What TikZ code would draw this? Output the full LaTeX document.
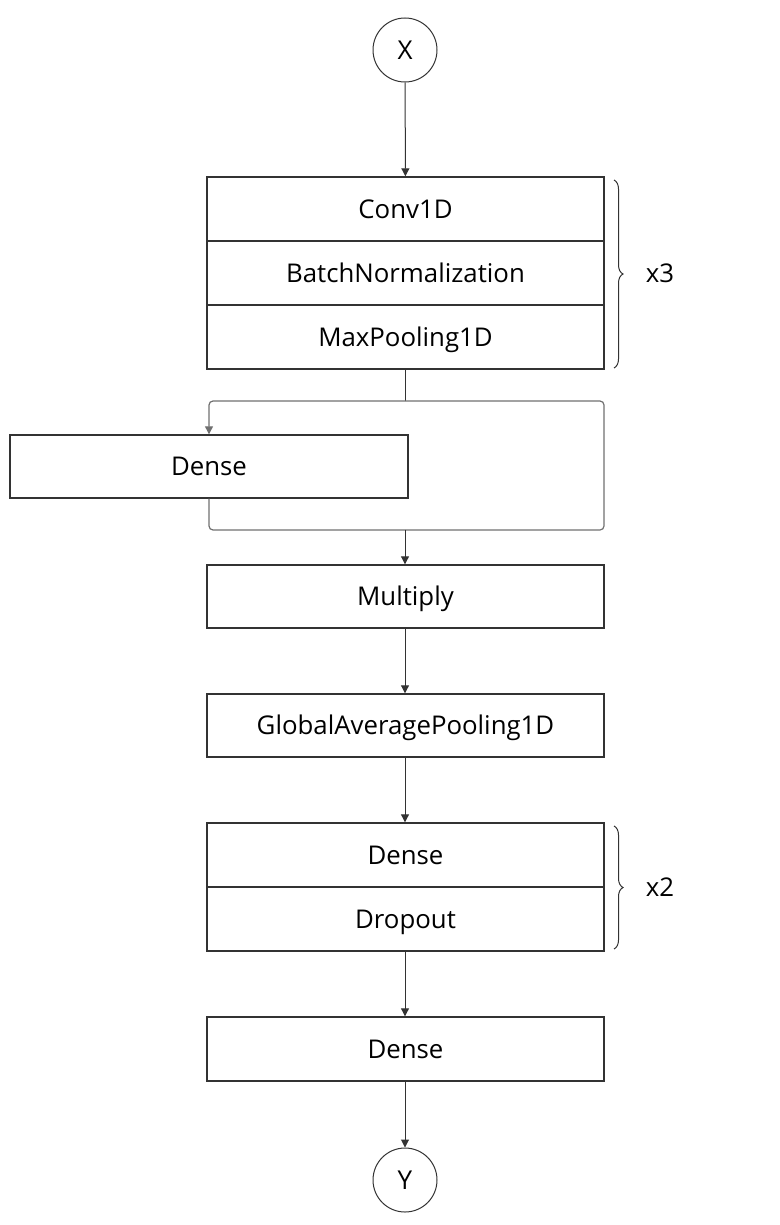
\documentclass[tikz,border=0pt]{standalone}
\usepackage{fontspec}
\setmainfont{Open Sans}
\usetikzlibrary{arrows.meta}
\usetikzlibrary{decorations.pathreplacing}
\definecolor{linegray}{HTML}{333333}
\definecolor{wiregray}{HTML}{707070}
\tikzset{
    % one layer of the network, drawn as a flat box
    layer/.style={draw=linegray,line width=0.7pt,minimum width=198.5pt,minimum height=32pt,
        inner sep=0pt,text height=9.2pt,text depth=0pt,font=\fontsize{12.9}{15}\selectfont},
    term/.style={circle,draw=linegray,line width=0.5pt,minimum size=32pt,inner sep=0pt,
        text height=9.2pt,text depth=0pt,font=\fontsize{13}{15}\selectfont},
    flow/.style={draw=linegray,line width=0.5pt,-{Triangle[width=4pt,length=4pt]}},
    wire/.style={draw=wiregray,line width=0.6pt,rounded corners=2pt},
    repeatbrace/.style={draw=linegray,line width=0.5pt,decorate,decoration={brace,amplitude=4.5pt}},
    count/.style={text height=9.2pt,text depth=0pt,font=\fontsize{12.9}{15}\selectfont}
}

\begin{document}
\begin{tikzpicture}[x=0.5pt,y=-0.5pt]
    \useasboundingbox (0,0) rectangle (780,1225);
    \node[term] (X) at (405,50) {X};
    % convolution block
    \node[layer] (conv) at (405.5,209) {Conv1D};
    \node[layer] (bn) at (405.5,273) {BatchNormalization};
    \node[layer] (pool) at (405.5,337) {MaxPooling1D};
    \draw[repeatbrace] (614,180) -- (614,368);
    \node[count] (rep3) at (660,273) {x3};
    % attention branch
    \node[layer,minimum width=199pt,minimum height=31.5pt] (attn) at (209,466.5) {Dense};
    \coordinate (split) at (405,401);
    \coordinate (skip) at (604,466);
    \coordinate (join) at (405,530);
    \node[layer,minimum height=31.5pt] (mult) at (405.5,596.5) {Multiply};
    \node[layer,minimum height=31.5pt] (gap) at (405.5,725.5) {GlobalAveragePooling1D};
    % dense block
    \node[layer] (dense) at (405.5,855) {Dense};
    \node[layer] (drop) at (405.5,919) {Dropout};
    \draw[repeatbrace] (614,826) -- (614,949);
    \node[count] (rep2) at (660,887) {x2};
    \node[layer] (out) at (405.5,1049) {Dense};
    \node[term] (Y) at (405,1180) {Y};
    % connectors
    \draw[flow] (X) -- (conv);
    \draw[draw=linegray,line width=0.5pt] (pool.south -| split) -- (split);
    \draw[wire,-{Triangle[width=4pt,length=4pt]}] (split) -| (attn.north);
    \draw[wire] (split) -| (skip) |- (join);
    \draw[wire] (attn.south) |- (join);
    \draw[flow] (join) -- (mult.north -| join);
    \draw[flow] (mult.south -| join) -- (gap.north -| join);
    \draw[flow] (gap.south -| join) -- (dense.north -| join);
    \draw[flow] (drop.south -| join) -- (out.north -| join);
    \draw[flow] (out.south -| join) -- (Y);
\end{tikzpicture}
\end{document}
